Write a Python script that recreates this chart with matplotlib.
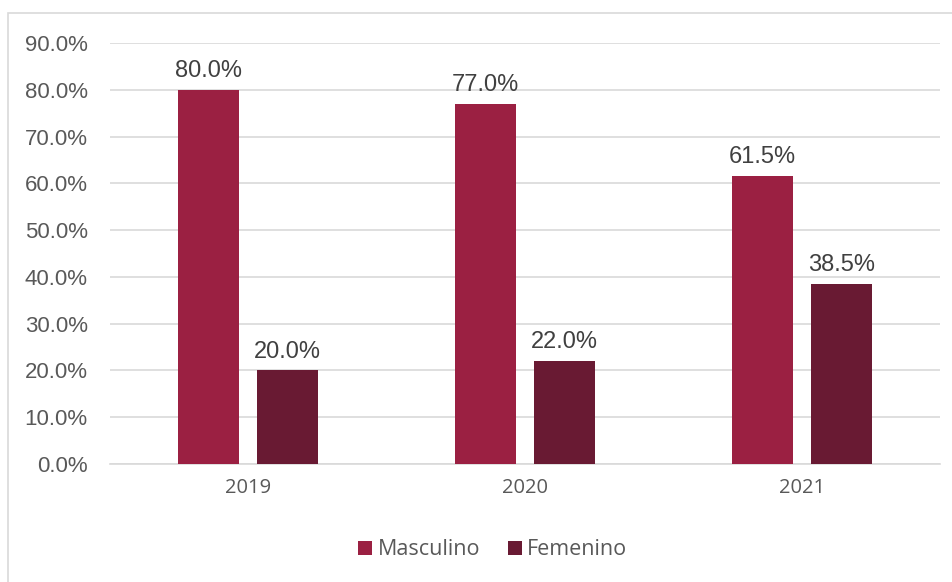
import matplotlib.pyplot as plt
import numpy as np
from matplotlib.patches import Rectangle

years = ['2019', '2020', '2021']
masculino = [80.0, 77.0, 61.5]
femenino = [20.0, 22.0, 38.5]
y_ticks = [0, 10, 20, 30, 40, 50, 60, 70, 80, 90]

c_masc = '#9B2042'
c_fem = '#691A33'

fig = plt.figure(figsize=(9.53, 5.82), dpi=100)
ax = fig.add_axes([0.1154, 0.2027, 0.8710, 0.7233])

# outer chart border
fig.patches.append(Rectangle((8 / 953, -0.05), 1.0, 1 - 13 / 582 + 0.05,
                             transform=fig.transFigure, fill=False,
                             edgecolor='#D9D9D9', linewidth=1.2))

x = np.arange(len(years))
w = 0.22
off = 0.1426
b1 = ax.bar(x - off, masculino, w, color=c_masc, label='Masculino', zorder=3)
b2 = ax.bar(x + off, femenino, w, color=c_fem, label='Femenino', zorder=3)

for bars, vals in ((b1, masculino), (b2, femenino)):
    for b, v in zip(bars, vals):
        ax.text(b.get_x() + b.get_width() / 2, v + 1.7, f'{v:.1f}%',
                ha='center', va='bottom', fontsize=17,
                family='Liberation Sans', color='#404040')

ax.set_xlim(-0.5, 2.5)
ax.set_ylim(0, 90)
ax.set_yticks(y_ticks)
ax.set_yticklabels([f'{t:.1f}%' for t in y_ticks], family='Liberation Sans',
                   fontsize=16, color='#595959')
ax.set_xticks(x)
ax.set_xticklabels(years, family='Open Sans', fontsize=14.5, color='#595959')
ax.tick_params(length=0)
ax.tick_params(axis='y', pad=16)
ax.tick_params(axis='x', pad=10)
ax.yaxis.grid(True, color='#D9D9D9', linewidth=1.2, zorder=0)
for s in ('top', 'right', 'left'):
    ax.spines[s].set_visible(False)
ax.spines['bottom'].set_color('#D9D9D9')
ax.spines['bottom'].set_linewidth(1.2)

fig.legend(handles=[b1, b2], loc='center', bbox_to_anchor=(0.517, 0.055),
           ncol=2, frameon=False, prop={'family': 'Open Sans', 'size': 15.5},
           handlelength=0.65, handleheight=0.65, handletextpad=0.25,
           columnspacing=1.3, labelcolor='#595959')

fig.savefig('out.png', dpi=100)
